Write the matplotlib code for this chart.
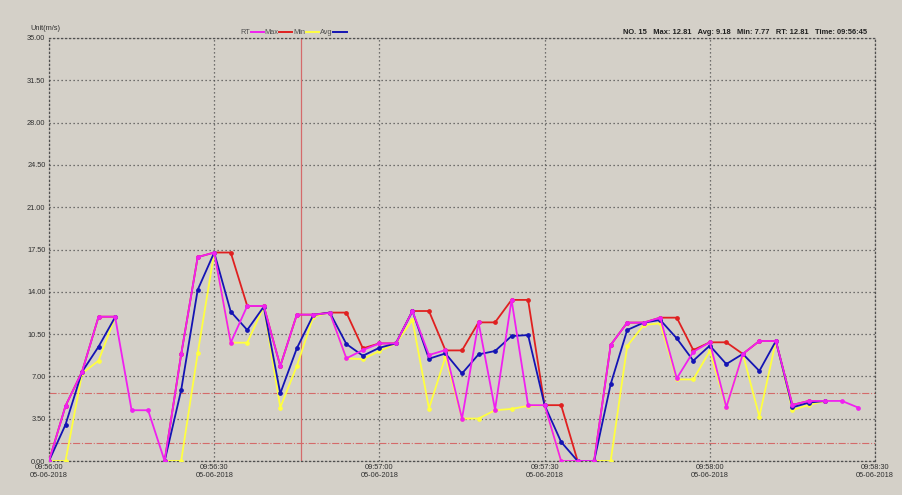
#!/usr/bin/env python

import matplotlib
matplotlib.use('Agg')

import numpy as np
import matplotlib.pyplot as plt
from matplotlib.lines import Line2D

nan = np.nan

# one sample every 3 s starting at 09:56:00
seconds = np.arange(0, 150, 3)

rt = [0, 4.56, 7.38, 11.94, 11.94, 4.2, 4.2, 0, 8.82, 16.87,
      17.25, 9.79, 12.83, 12.83, 7.85, 12.11, 12.11, 12.25, 8.49, 9.18,
      9.73, 9.73, 12.41, 8.77, 9.18, 3.51, 11.47, 4.26, 13.33, 4.62,
      4.62, 0, 0, 0, 9.6, 11.45, 11.45, 11.86, 6.83, 9.04,
      9.82, 4.45, 8.86, 9.93, 9.93, 4.64, 4.97, 4.97, 4.97, 4.41]

maximum = [0, 4.56, 7.38, 11.94, 11.94, nan, nan, 0, 8.82, 16.87,
           17.25, 17.25, 12.83, 12.83, 7.85, 12.11, 12.11, 12.28, 12.28, 9.32,
           9.73, 9.73, 12.41, 12.41, 9.15, 9.15, 11.47, 11.47, 13.33, 13.33,
           4.62, 4.62, 0, 0, 9.6, 11.45, 11.45, 11.86, 11.86, 9.18,
           9.82, 9.82, 8.86, 9.93, 9.93, 4.64, 4.97, 4.97, nan, nan]

average = [0, 3.01, 7.38, 9.46, 11.9, nan, nan, 0, 5.86, 14.16,
           17.25, 12.36, 10.84, 12.77, 5.59, 9.32, 12.08, 12.28, 9.68, 8.71,
           9.37, 9.73, 12.41, 8.46, 8.9, 7.24, 8.82, 9.1, 10.34, 10.42,
           4.62, 1.58, 0, 0, 6.36, 10.84, 11.45, 11.67, 10.15, 8.3,
           9.55, 8.02, 8.86, 7.45, 9.93, 4.44, 4.83, 4.97, nan, nan]

minimum = [0, 0, 7.24, 8.3, 11.9, nan, nan, 0, 0, 8.9,
           17.25, 9.79, 9.79, 12.77, 4.42, 7.85, 11.94, 12.28, 8.49, 8.43,
           9.1, 9.73, 11.67, 4.34, 8.63, 3.51, 3.51, 4.2, 4.31, 4.56,
           4.62, 0, 0, 0, 0, 9.51, 11.25, 11.39, 6.75, 6.75,
           9.1, 4.45, 8.86, 3.67, 9.93, 4.22, 4.64, 4.97, nan, nan]

x_ticks = [0, 30, 60, 90, 120, 150]
x_labels = ['09:56:00\n05-06-2018', '09:56:30\n05-06-2018', '09:57:00\n05-06-2018',
            '09:57:30\n05-06-2018', '09:58:00\n05-06-2018', '09:58:30\n05-06-2018']
y_ticks = [0, 3.5, 7, 10.5, 14, 17.5, 21, 24.5, 28, 31.5, 35]

upper_limit = 5.6
lower_limit = 1.45
cursor = 45.8

info = 'NO. 15   Max: 12.81   Avg: 9.18   Min: 7.77   RT: 12.81   Time: 09:56:45'

plt.rcParams['font.family'] = ['Liberation Sans', 'DejaVu Sans']

BG = '#d4d0c8'
C_RT = '#f020f0'
C_MAX = '#e02020'
C_MIN = '#ffff40'
C_AVG = '#1414b4'
DOTS = (0, (1, 2.2))

W, H = 903, 495
fig = plt.figure(figsize=(W / 100.0, H / 100.0), dpi=100, facecolor=BG)
ax = fig.add_axes([49.0 / W, 34.0 / H, 826.0 / W, 423.0 / H])
ax.set_facecolor(BG)
ax.set_xlim(0, 150)
ax.set_ylim(0, 35)

for s in ax.spines.values():
    s.set_linestyle(DOTS)
    s.set_color('#505050')
    s.set_linewidth(0.9)
ax.grid(True, linestyle=DOTS, color='#505050', linewidth=0.9)
ax.set_axisbelow(True)

ax.set_xticks(x_ticks)
ax.set_xticklabels(x_labels, linespacing=1.1)
ax.set_yticks(y_ticks)
ax.set_yticklabels(['%.2f' % v for v in y_ticks])
ax.tick_params(length=0, labelsize=5.3, colors='#303030', pad=2.5)

ax.axhline(upper_limit, color='#d46a6a', linestyle='-.', linewidth=0.8, zorder=1)
ax.axhline(lower_limit, color='#d46a6a', linestyle='-.', linewidth=0.8, zorder=1)
ax.axvline(cursor, color='#d46a6a', linewidth=0.9, zorder=1)

ax.plot(seconds, maximum, color=C_MAX, lw=1.3, marker='o', ms=2.4, zorder=3)
ax.plot(seconds, minimum, color=C_MIN, lw=1.3, marker='o', ms=2.4, zorder=3)
ax.plot(seconds, average, color=C_AVG, lw=1.3, marker='o', ms=2.4, zorder=4)
ax.plot(seconds, rt, color=C_RT, lw=1.3, marker='o', ms=2.4, zorder=5)

# texts above the plot, positioned in pixels
def fx(px):
    return px / float(W)

def fy(py):
    return 1 - py / float(H)

fig.text(fx(30), fy(29), 'Unit(m/s)', fontsize=5.3, color='#303030', va='center')

legend = [('RT', 240, C_RT, 251, 264), ('Max', 264, C_MAX, 279, 292),
          ('Min', 293, C_MIN, 306, 319), ('Avg', 320, C_AVG, 333, 347)]
for name, tx, col, x0, x1 in legend:
    fig.text(fx(tx), fy(32), name, fontsize=5.3, color='#505050', va='center')
    fig.add_artist(Line2D([fx(x0), fx(x1)], [fy(32), fy(32)], color=col, lw=1.4))

fig.text(fx(867), fy(32), info, fontsize=5.4, color='#202020', fontweight='bold',
         ha='right', va='center')

plt.savefig('out.png', dpi=100, facecolor=BG)
